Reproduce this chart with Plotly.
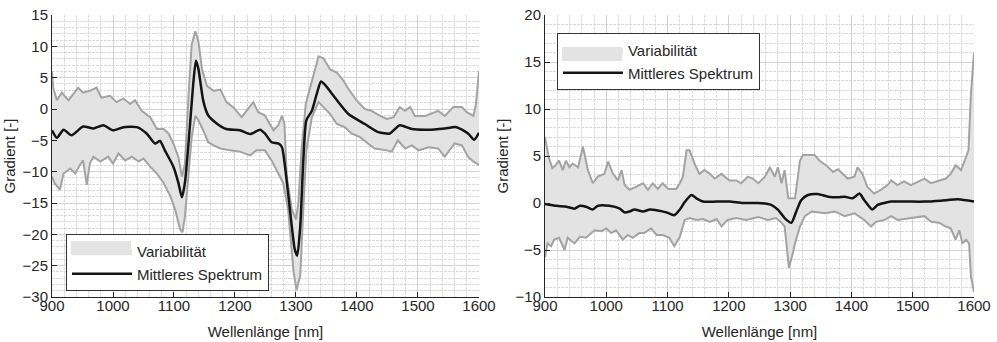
import plotly.graph_objects as go

# ---------------- Left panel data ----------------
L_mean_x = [900, 908, 919, 932, 951, 968, 984, 1000, 1017, 1039, 1055, 1069, 1077, 1085, 1099, 1107, 1113, 1118,
            1126, 1132, 1136, 1140, 1148, 1156, 1170, 1186, 1208, 1225, 1241, 1249, 1260, 1271, 1277, 1282, 1290,
            1298, 1302, 1307, 1312, 1317, 1326, 1334, 1341, 1348, 1364, 1386, 1413, 1435, 1454, 1470, 1490, 1517,
            1544, 1563, 1582, 1592, 1600]
L_mean_y = [-3.4, -4.6, -3.3, -4.2, -2.8, -3.1, -2.6, -3.4, -2.9, -2.9, -3.9, -5.5, -5.1, -6.6, -9.2, -11.7, -14.1,
            -11.7, -2.8, 4.5, 7.7, 6.4, 1.3, -1.0, -2.3, -3.2, -3.4, -4.0, -3.3, -3.9, -5.3, -5.5, -6.1, -9.2,
            -16.0, -22.4, -23.4, -18.7, -8.2, -1.8, -0.3, 2.4, 4.4, 3.8, 1.8, -0.8, -2.4, -3.7, -3.9, -2.6, -3.2,
            -3.3, -3.1, -2.9, -3.9, -4.9, -3.8]

L_up_x = [900, 902, 908, 916, 927, 943, 951, 962, 973, 981, 995, 1006, 1017, 1028, 1036, 1047, 1061, 1072, 1083,
          1091, 1099, 1107, 1113, 1118, 1124, 1129, 1135, 1140, 1146, 1154, 1165, 1176, 1186, 1197, 1211, 1219,
          1230, 1238, 1249, 1257, 1263, 1271, 1277, 1281, 1285, 1293, 1300, 1304, 1309, 1316, 1323, 1331, 1337,
          1345, 1356, 1367, 1378, 1386, 1400, 1413, 1424, 1438, 1449, 1460, 1470, 1479, 1487, 1495, 1512, 1533,
          1544, 1558, 1572, 1580, 1591, 1595, 1600]
L_up_y = [6.0, 3.4, 1.4, 2.6, 1.4, 3.4, 2.6, 2.9, 3.4, 1.8, 2.1, 1.1, 1.7, 0.8, 1.4, -0.3, -1.3, -3.2, -3.2, -3.9,
          -5.5, -7.6, -10.8, -8.7, 2.4, 10.3, 12.4, 10.8, 6.3, 3.7, 2.9, 3.1, 1.1, 0.3, -1.3, -0.3, 1.1, -0.5,
          -1.0, -2.4, -3.4, -2.6, -1.1, -2.4, -10.8, -16.0, -17.6, -15.0, -6.6, 0.8, 3.4, 6.1, 8.4, 8.1, 6.3,
          5.8, 4.5, 3.2, 1.3, 0.0, -0.3, -1.1, -1.6, -1.3, 0.3, -0.3, 0.3, -1.1, -1.1, -0.3, -1.1, 0.3, 0.3,
          -0.5, -1.1, 0.8, 6.1]

L_lo_x = [900, 904, 913, 919, 930, 938, 946, 951, 957, 962, 968, 979, 992, 1000, 1009, 1020, 1031, 1042, 1050,
          1061, 1072, 1083, 1094, 1102, 1110, 1114, 1118, 1124, 1129, 1135, 1140, 1148, 1156, 1165, 1176, 1192,
          1208, 1225, 1235, 1249, 1260, 1271, 1279, 1287, 1296, 1301, 1307, 1312, 1317, 1326, 1337, 1345, 1356,
          1367, 1380, 1391, 1405, 1418, 1429, 1449, 1457, 1467, 1479, 1490, 1501, 1517, 1533, 1544, 1560, 1572,
          1582, 1591, 1600]
L_lo_y = [-10.8, -11.8, -12.9, -10.3, -9.5, -10.3, -8.9, -8.2, -12.1, -8.7, -7.6, -8.4, -7.6, -8.7, -7.1, -8.2,
          -7.6, -8.4, -7.9, -9.2, -10.3, -11.8, -13.9, -16.1, -19.2, -19.7, -17.1, -10.8, -4.5, -1.1, -1.8, -3.4,
          -5.3, -5.8, -6.3, -6.6, -6.8, -7.4, -6.6, -6.6, -8.2, -10.3, -11.8, -16.0, -26.0, -28.9, -26.6, -16.0,
          -6.6, -1.3, 1.1, 0.3, -0.8, -2.4, -2.9, -3.9, -4.5, -5.5, -6.3, -6.6, -6.8, -5.0, -6.3, -5.8, -6.6,
          -6.1, -6.3, -7.6, -5.5, -5.8, -7.6, -8.4, -8.9]

# ---------------- Right panel data ----------------
R_mean_x = [900, 919, 935, 948, 957, 967, 978, 986, 1005, 1022, 1030, 1038, 1046, 1060, 1071, 1084, 1098, 1111,
            1120, 1128, 1139, 1147, 1158, 1180, 1201, 1223, 1248, 1269, 1280, 1291, 1302, 1310, 1318, 1329, 1345,
            1362, 1378, 1389, 1402, 1413, 1421, 1434, 1443, 1465, 1492, 1519, 1546, 1574, 1600]
R_mean_y = [-0.1, -0.3, -0.4, -0.6, -0.3, -0.4, -0.7, -0.3, -0.3, -0.6, -1.0, -0.9, -0.7, -0.9, -0.7, -0.8, -1.0,
            -1.3, -0.7, 0.1, 0.85, 0.5, 0.15, 0.15, 0.15, 0.0, 0.0, -0.2, -0.7, -1.6, -2.1, -0.9, 0.3, 0.85, 0.95,
            0.67, 0.6, 0.67, 0.5, 1.0, 0.3, -0.7, -0.2, 0.15, 0.15, 0.15, 0.25, 0.4, 0.15]

R_up_x = [900, 906, 912, 917, 923, 929, 934, 940, 945, 954, 962, 970, 978, 986, 997, 1003, 1011, 1019, 1025, 1030,
          1038, 1060, 1068, 1076, 1084, 1092, 1101, 1114, 1120, 1125, 1131, 1136, 1144, 1152, 1160, 1169, 1177,
          1188, 1201, 1212, 1220, 1231, 1239, 1248, 1259, 1267, 1275, 1280, 1286, 1291, 1297, 1308, 1316, 1321,
          1340, 1348, 1359, 1370, 1378, 1386, 1394, 1405, 1410, 1418, 1426, 1437, 1448, 1459, 1465, 1475, 1486,
          1497, 1519, 1530, 1543, 1554, 1562, 1570, 1579, 1587, 1591, 1595, 1600]
R_up_y = [7.0, 4.9, 3.7, 4.0, 4.5, 3.5, 4.5, 3.8, 4.2, 3.8, 6.0, 3.5, 2.1, 2.8, 3.1, 4.4, 3.1, 2.4, 3.5, 1.9, 1.4,
          2.1, 1.4, 2.1, 1.5, 2.1, 1.5, 1.5, 2.1, 2.8, 5.6, 5.6, 4.2, 3.1, 3.5, 3.1, 2.6, 3.1, 2.4, 2.4, 2.1, 2.8,
          2.6, 2.1, 2.8, 3.8, 2.8, 3.8, 2.1, 3.5, 0.5, 0.5, 4.5, 5.1, 5.1, 4.5, 4.0, 3.3, 3.6, 3.1, 2.6, 2.8, 3.8,
          3.1, 1.7, 1.0, 1.4, 1.9, 2.4, 1.9, 2.3, 1.9, 2.6, 2.1, 2.4, 2.6, 3.1, 4.0, 3.5, 4.9, 5.6, 11.6, 16.0]

R_lo_x = [900, 904, 910, 915, 923, 932, 937, 948, 957, 967, 981, 992, 1000, 1008, 1016, 1027, 1035, 1043, 1054,
          1062, 1073, 1082, 1092, 1103, 1111, 1120, 1128, 1136, 1147, 1158, 1169, 1180, 1188, 1198, 1212, 1228,
          1248, 1264, 1277, 1286, 1291, 1294, 1298, 1303, 1308, 1316, 1324, 1335, 1357, 1373, 1389, 1405, 1421,
          1432, 1440, 1454, 1465, 1475, 1497, 1519, 1530, 1543, 1554, 1562, 1570, 1576, 1581, 1587, 1592, 1595,
          1600]
R_lo_y = [-5.8, -4.3, -4.6, -3.9, -3.7, -5.0, -3.7, -4.3, -3.6, -3.7, -2.9, -3.0, -2.7, -3.2, -2.9, -3.9, -3.4,
          -3.7, -3.2, -3.2, -2.7, -3.4, -3.4, -3.7, -4.6, -3.6, -1.8, -1.6, -1.8, -1.7, -2.0, -1.7, -2.5, -1.8,
          -1.6, -1.8, -1.5, -1.8, -1.6, -2.1, -2.5, -4.6, -6.9, -5.7, -4.3, -2.5, -1.4, -0.9, -1.1, -0.9, -1.4,
          -1.1, -1.8, -2.5, -2.0, -1.8, -1.4, -1.8, -1.6, -1.4, -2.0, -2.1, -2.5, -2.7, -3.9, -2.9, -4.3, -3.9,
          -4.3, -7.8, -9.5]

x_ticks = [900, 1000, 1100, 1200, 1300, 1400, 1500, 1600]
L_yticks = [-30, -25, -20, -15, -10, -5, 0, 5, 10, 15]
R_yticks = [-10, -5, 0, 5, 10, 15, 20]

names = ["Variabilität", "Mittleres Spektrum"]
FILL = "#e3e3e3"
EDGE = "#a3a3a3"
MEAN = "#141414"
TXT = "#262626"
FONT = "Liberation Sans, Arial, sans-serif"
FS = 15

fig = go.Figure()


def add_panel(xa, ya, up_x, up_y, lo_x, lo_y, m_x, m_y, legend):
    fig.add_trace(go.Scatter(x=up_x + lo_x[::-1], y=up_y + lo_y[::-1], fill="toself", fillcolor=FILL,
                             mode="lines", line=dict(width=0, color=FILL), name=names[0],
                             xaxis=xa, yaxis=ya, legend=legend, hoverinfo="skip"))
    fig.add_trace(go.Scatter(x=up_x, y=up_y, mode="lines", line=dict(color=EDGE, width=2),
                             showlegend=False, xaxis=xa, yaxis=ya))
    fig.add_trace(go.Scatter(x=lo_x, y=lo_y, mode="lines", line=dict(color=EDGE, width=2),
                             showlegend=False, xaxis=xa, yaxis=ya))
    fig.add_trace(go.Scatter(x=m_x, y=m_y, mode="lines", line=dict(color=MEAN, width=2.5, shape="spline",
                                                                   smoothing=0.6),
                             name=names[1], xaxis=xa, yaxis=ya, legend=legend))


add_panel("x", "y", L_up_x, L_up_y, L_lo_x, L_lo_y, L_mean_x, L_mean_y, "legend")
add_panel("x2", "y2", R_up_x, R_up_y, R_lo_x, R_lo_y, R_mean_x, R_mean_y, "legend2")

GRID_MAJ = "#d2d2d2"
GRID_MIN = "#d9d9d9"

ax_common = dict(
    showline=True, linecolor=TXT, linewidth=1, ticks="inside", ticklen=5, tickcolor=TXT,
    tickfont=dict(family=FONT, size=FS, color=TXT), showgrid=True, gridcolor=GRID_MAJ, gridwidth=1,
    zeroline=False, mirror=False, automargin=False,
)

xax = dict(ax_common, range=[900, 1600], tickvals=x_ticks, ticklabelstandoff=-5,
           title=dict(text="Wellenlänge [nm]", font=dict(family=FONT, size=FS, color=TXT), standoff=13),
           minor=dict(dtick=20, showgrid=True, gridcolor=GRID_MIN, griddash="3px,1px", ticks=""))

ymin = dict(dtick=1, showgrid=True, gridcolor=GRID_MIN, griddash="3px,1px", ticks="")

fig.update_layout(
    width=997, height=342,
    margin=dict(l=52, r=23, t=15, b=45, autoexpand=False),
    paper_bgcolor="white", plot_bgcolor="white",
    showlegend=True,
    xaxis=dict(xax, domain=[0, 0.4631], anchor="y"),
    xaxis2=dict(xax, domain=[0.5347, 1.0], anchor="y2"),
    yaxis=dict(ax_common, range=[-30, 15], tickvals=L_yticks, anchor="x",
               title=dict(text="Gradient [-]", font=dict(family=FONT, size=FS, color=TXT), standoff=3),
               minor=ymin),
    yaxis2=dict(ax_common, range=[-10, 20], tickvals=R_yticks, anchor="x2",
                title=dict(text="Gradient [-]", font=dict(family=FONT, size=FS, color=TXT), standoff=3),
                minor=ymin),
    legend=dict(x=0.0152, y=0.2234, xanchor="left", yanchor="top", bgcolor="white", bordercolor="#333333",
                borderwidth=1, font=dict(family=FONT, size=FS, color=TXT), itemwidth=60,
                tracegroupgap=0, itemclick=False),
    legend2=dict(x=0.5477, y=0.936, xanchor="left", yanchor="top", bgcolor="white", bordercolor="#333333",
                 borderwidth=1, font=dict(family=FONT, size=FS, color=TXT), itemwidth=60,
                 tracegroupgap=0, itemclick=False),
)

# Filled swatches for the "Variabilität" legend entries (drawn over the thin default symbol)
for sx, sy in [(0.0531, 0.1738), (0.5857, 0.8617)]:
    fig.add_annotation(xref="paper", yref="paper", x=sx, y=sy, xanchor="center", yanchor="middle",
                       text=" ", showarrow=False, width=60, height=14, bgcolor=FILL,
                       borderpad=0, borderwidth=0)

fig.write_html("out.html")
